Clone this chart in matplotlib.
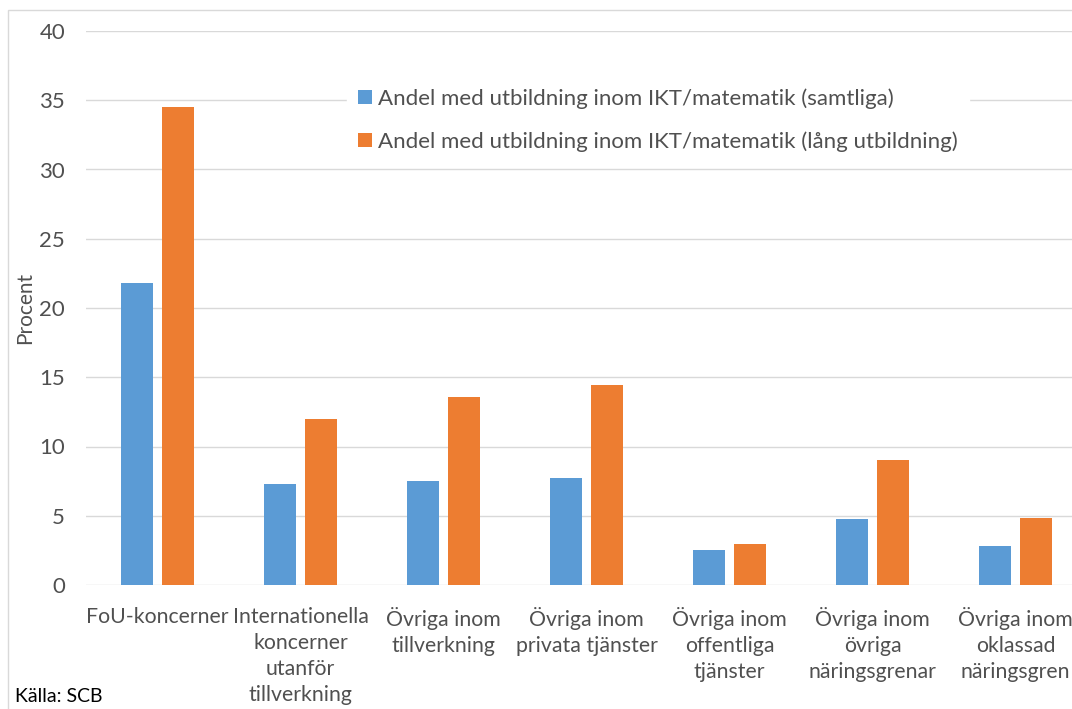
import matplotlib.pyplot as plt
import matplotlib.patches as mpatches
import numpy as np

plt.rcParams['font.family'] = ['Lato', 'DejaVu Sans']

categories = ["FoU-koncerner", "Internationella\nkoncerner\nutanför\ntillverkning",
              "Övriga inom\ntillverkning", "Övriga inom\nprivata tjänster",
              "Övriga inom\noffentliga\ntjänster", "Övriga inom\növriga\nnäringsgrenar",
              "Övriga inom\noklassad\nnäringsgren"]
samtliga = [21.8, 7.3, 7.5, 7.7, 2.55, 4.8, 2.85]
lang_utb = [34.5, 12.0, 13.6, 14.45, 2.95, 9.05, 4.85]
series_names = ["Andel med utbildning inom IKT/matematik (samtliga)",
                "Andel med utbildning inom IKT/matematik (lång utbildning)"]
yticks = [0, 5, 10, 15, 20, 25, 30, 35, 40]

blue = "#5B9BD5"
orange = "#ED7D31"
txt = "#505050"

W, H = 1072, 709
fig = plt.figure(figsize=(W / 100, H / 100), dpi=100)
ax = fig.add_axes([86 / W, 1 - 585 / H, 1 - 86 / W, (585 - 31) / H])

# thin frame round the chart (cut off right and bottom)
fig.patches.append(mpatches.Rectangle((8 / W, -0.05), 1.1, 1 - 10 / H + 0.05,
                                      transform=fig.transFigure, fill=False,
                                      edgecolor="#D9D9D9", linewidth=1, zorder=0))

x = np.arange(len(categories))
bw = 0.225
ax.bar(x - 0.145, samtliga, bw, color=blue, label=series_names[0], zorder=3)
ax.bar(x + 0.145, lang_utb, bw, color=orange, label=series_names[1], zorder=3)

ax.set_xlim(-0.5, 6.5 - 15 / 143)
ax.set_ylim(0, 40)
ax.set_yticks(yticks)
ax.set_xticks(x)
ax.set_xticklabels(categories, fontsize=15.3, color=txt, linespacing=1.38)
ax.tick_params(axis="y", length=0, pad=15, labelsize=16, labelcolor=txt)
ax.tick_params(axis="x", length=0, pad=16)
ax.grid(axis="y", color="#D9D9D9", linewidth=1, zorder=0)
for s in ax.spines.values():
    s.set_visible(False)

fig.text(25 / W, 1 - 308 / H, "Procent", rotation=90, ha="center", va="center",
         fontsize=15, color=txt)
fig.text(15 / W, 1 - 697 / H, "Källa: SCB", ha="left", va="center",
         fontsize=14, color="#000000")

leg = ax.legend(loc="upper left", bbox_to_anchor=(336 / W, 1 - 66 / H),
                bbox_transform=fig.transFigure, frameon=True, fancybox=False,
                edgecolor="white", facecolor="white", framealpha=1,
                fontsize=16, handlelength=0.6, handleheight=0.6,
                handletextpad=0.3, labelspacing=1.0, borderpad=0.5)
for t in leg.get_texts():
    t.set_color(txt)

fig.savefig("out.png", dpi=100)
